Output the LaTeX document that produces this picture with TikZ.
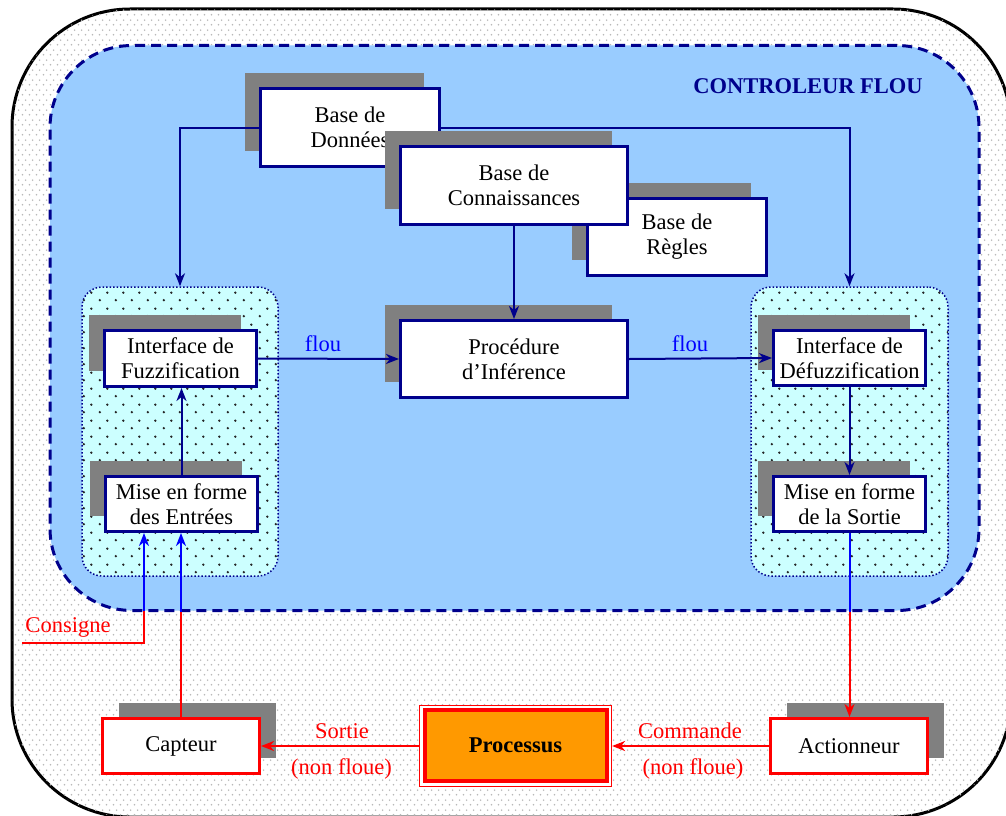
\documentclass[tikz,border=0pt]{standalone}
\usepackage{fontspec}
\setmainfont{Liberation Serif}
\usetikzlibrary{arrows.meta,shadows,patterns,calc}
\definecolor{navyc}{RGB}{0,0,140}
\definecolor{ctrlblue}{RGB}{153,204,255}
\definecolor{grpcyan}{RGB}{204,255,255}
\definecolor{orangec}{RGB}{255,153,0}
\definecolor{shadowgray}{RGB}{128,128,128}
\definecolor{pureblue}{RGB}{0,0,255}
\definecolor{purered}{RGB}{255,0,0}
\pgfdeclarepatternformonly{bgdots}{\pgfpointorigin}{\pgfpoint{7pt}{10pt}}{\pgfpoint{7pt}{10pt}}{%
  \pgfpathcircle{\pgfpoint{1.75pt}{2.5pt}}{0.95pt}%
  \pgfpathcircle{\pgfpoint{5.25pt}{7.5pt}}{0.95pt}%
  \pgfusepath{fill}}
\pgfdeclarepatternformonly{grpdots}{\pgfpointorigin}{\pgfpoint{16pt}{16pt}}{\pgfpoint{16pt}{16pt}}{%
  \pgfpathcircle{\pgfpoint{4pt}{4pt}}{1.35pt}%
  \pgfpathcircle{\pgfpoint{12pt}{12pt}}{1.35pt}%
  \pgfusepath{fill}}
\tikzset{
  txt/.style={font=\fontsize{22.5}{25}\selectfont},
  box/.style={txt, draw=navyc, line width=3pt, fill=white, align=center, inner sep=0pt,
    drop shadow={shadow xshift=-16pt, shadow yshift=16pt, opacity=1, fill=shadowgray}},
  rbox/.style={txt, draw=purered, line width=3pt, fill=white, align=center, inner sep=0pt,
    drop shadow={shadow xshift=16pt, shadow yshift=16pt, opacity=1, fill=shadowgray}},
  grp/.style={draw=navyc, dotted, line width=1.5pt, rounded corners=20pt, fill=grpcyan,
    postaction={pattern=grpdots, pattern color=black!85}, inner sep=0pt},
  conn/.style={draw=navyc, line width=2pt, -{Stealth[length=13pt,width=10pt,inset=4pt]}},
  redarrow/.style={draw=purered, line width=2pt, -{Stealth[length=13pt,width=10pt,inset=4pt]}},
  redline/.style={draw=purered, line width=2pt},
  bluearrow/.style={draw=pureblue, line width=2pt, -{Stealth[length=13pt,width=10pt,inset=4pt]}},
  blueline/.style={draw=pureblue, line width=2pt},
  redlabel/.style={txt, text=purered, anchor=base, inner sep=0pt},
  floulabel/.style={txt, text=pureblue, anchor=base, inner sep=0pt}
}
\begin{document}
\begin{tikzpicture}[x=1pt,y=-1pt]
\useasboundingbox (0,0) rectangle (1006,816);
% outer frame
\node[draw=black, line width=3pt, rounded corners=118pt, fill=white,
  postaction={pattern=bgdots, pattern color=gray!55},
  minimum width=999pt, minimum height=808pt, inner sep=0pt] (outer) at (511.5,413) {};
% controller
\node[draw=navyc, dashed, dash pattern=on 10pt off 6pt, line width=3pt, rounded corners=82pt,
  fill=ctrlblue, minimum width=929pt, minimum height=565pt, inner sep=0pt] (ctrl) at (514.5,328) {};
\node[txt, font=\fontsize{22.5}{25}\selectfont\bfseries, text=navyc, anchor=base, inner sep=0pt]
  (title) at (808,93) {CONTROLEUR FLOU};
% groups
\node[grp, minimum width=196pt, minimum height=289pt] (lgrp) at (180,431.5) {};
\node[grp, minimum width=197pt, minimum height=289pt] (rgrp) at (849.5,431.5) {};
% bases
\node[box, minimum width=179pt, minimum height=78pt] (bdd) at (350,127.5) {Base de\\Données};
\node[box, minimum width=179pt, minimum height=77pt] (bdr) at (677,237) {Base de\\Règles};
\node[box, minimum width=227pt, minimum height=78pt] (bdc) at (514,185.5) {Base de\\Connaissances};
\node[box, minimum width=227pt, minimum height=77pt] (inf) at (514,359) {Procédure\\d’Inférence};
% interfaces
\node[box, minimum width=152pt, minimum height=56pt] (IF) at (180.5,358.5) {Interface de\\Fuzzification};
\node[box, minimum width=152pt, minimum height=55pt] (ME) at (181.5,504) {Mise en forme\\des Entrées};
\node[box, minimum width=152pt, minimum height=55pt] (ID) at (849.5,358) {Interface de\\Défuzzification};
\node[box, minimum width=152pt, minimum height=55pt] (MS) at (849.5,504) {Mise en forme\\de la Sortie};
% process chain
\node[rbox, minimum width=157pt, minimum height=55pt] (capt) at (181,746) {Capteur};
\node[rbox, minimum width=157pt, minimum height=55pt] (act) at (849,746) {Actionneur};
\node[draw=purered, line width=1.2pt, fill=white, minimum width=192pt, minimum height=81pt, inner sep=0pt]
  (procout) at (515.5,746) {};
\node[txt, font=\fontsize{22.5}{25}\selectfont\bfseries, draw=purered, line width=4pt, fill=orangec,
  minimum width=182pt, minimum height=71pt, inner sep=0pt] (proc) at (515.5,745.5) {Processus};
% connectors inside controller
\draw[conn] (bdd.west) -| (lgrp.north);
\draw[conn] (bdd.east) -| (rgrp.north);
\draw[conn] (bdc.south) -- (inf.north);
\draw[conn] (IF.east) -- (inf.west);
\draw[conn] (inf.east) -- (ID.west);
\draw[conn] (ME.north) -- (ME.north |- IF.south);
\draw[conn] (ID.south) -- (MS.north);
\node[floulabel] (flouL) at (323,351) {flou};
\node[floulabel] (flouR) at (690,351) {flou};
% output path
\draw[blueline] (MS.south) -- (MS.south |- ctrl.south);
\draw[redarrow] (MS.south |- ctrl.south) -- (MS.south |- act.north);
\draw[redarrow] (act.west) -- (procout.east);
\draw[redarrow] (procout.west) -- (capt.east);
\node[redlabel] (cmd) at (690,738) {Commande};
\node[redlabel] (cmdnf) at (693,774) {(non floue)};
\node[redlabel] (sort) at (342,738) {Sortie};
\node[redlabel] (sortnf) at (341.5,774) {(non floue)};
% feedback
\draw[redline] (capt.north) -- (capt.north |- ctrl.south);
\draw[bluearrow] (capt.north |- ctrl.south) -- (capt.north |- ME.south);
\coordinate (cons) at (22,643);
\coordinate (consup) at (144,611);
\draw[redline] (cons) -| (consup);
\draw[bluearrow] (consup) -- (consup |- ME.south);
\node[redlabel] (conslab) at (68,632) {Consigne};
\end{tikzpicture}
\end{document}
